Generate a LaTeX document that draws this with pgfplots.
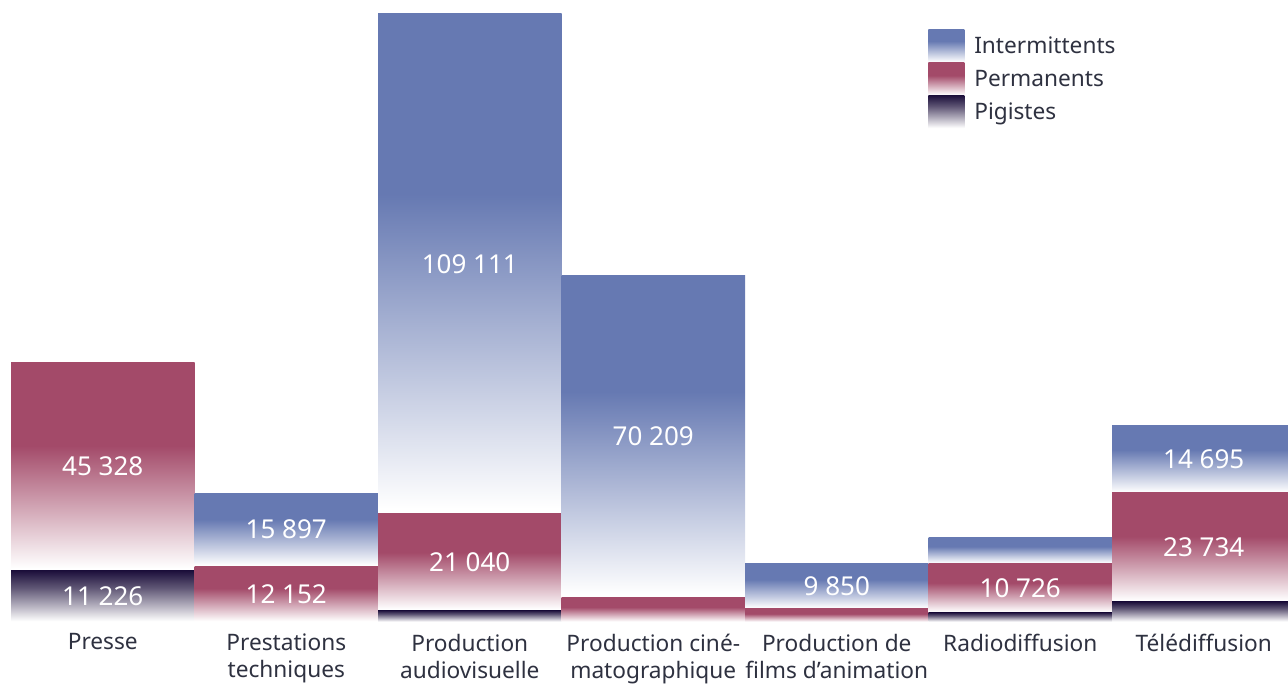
\documentclass[border=0pt]{standalone}
\usepackage{pgfplots}
\pgfplotsset{compat=1.18}
\usepackage{pgfplotstable}
\usepackage{fontspec}
\setmainfont{Noto Sans}

\definecolor{intcol}{HTML}{6679B2}
\definecolor{permcol}{HTML}{A34A69}
\definecolor{pigcol}{HTML}{1B0E3A}
\definecolor{txtcol}{HTML}{2E3140}

% solid colour at the top, fading to white at the bottom of each segment
\pgfdeclareverticalshading{intsh}{100bp}{color(0bp)=(white); color(25.5bp)=(white); color(57bp)=(intcol); color(100bp)=(intcol)}
\pgfdeclareverticalshading{permsh}{100bp}{color(0bp)=(white); color(25.5bp)=(white); color(55bp)=(permcol); color(100bp)=(permcol)}
\pgfdeclareverticalshading{pigsh}{100bp}{color(0bp)=(white); color(25.5bp)=(white); color(58bp)=(pigcol!70!white); color(75bp)=(pigcol); color(100bp)=(pigcol)}

% labels, placed at the middle of each segment
\pgfplotstableread[col sep=comma]{
x,pig,perm,int,lpig,lperm,lint
0,11226,45328,0,11 226,45 328,
1,0,12152,15897,,12 152,15 897
2,2500,21040,109111,,21 040,109 111
3,0,5300,70209,,,70 209
4,0,2900,9850,,,9 850
5,2050,10726,5700,,10 726,
6,4370,23734,14695,,23 734,14 695
}\data

\pgfplotsset{
  base/.style={
    scale only axis,
    width=966pt, height=466.3pt,
    xmin=-0.56, xmax=6.459,
    ymin=0, ymax=135700,
  },
  bars/.style={base, hide axis, ybar stacked, bar width=1},
  pig/.style={draw=none, shading=pigsh},
  perm/.style={draw=none, shading=permsh},
  int/.style={draw=none, shading=intsh},
}

\begin{document}
\begin{tikzpicture}
% category names and legend
\begin{axis}[
  base,
  axis x line*=bottom,
  axis y line=none,
  axis line style={draw=none},
  xtick={0,...,6},
  xtick style={draw=none},
  xticklabels={Presse, {Prestations\\techniques}, {Production\\audiovisuelle},
    {Production ciné-\\matographique}, {Production de\\films d’animation},
    Radiodiffusion, Télédiffusion},
  xticklabel style={align=center, text=txtcol, yshift=-5.5pt,
    font=\fontsize{17}{20.3}\selectfont},
  legend style={at={(0.7205,0.9534)}, anchor=north west, draw=none, fill=none,
    inner sep=0pt, row sep=0pt,
    nodes={inner sep=0pt, text=txtcol, font=\fontsize{17}{21}\selectfont}},
  legend cell align=left,
  legend image code/.code={\path[#1] (0pt,-11.7pt) rectangle (27pt,13.05pt);},
]
\addlegendimage{int}
\addlegendentry{\hspace{7.5pt}Intermittents}
\addlegendimage{perm}
\addlegendentry{\hspace{7.5pt}Permanents}
\addlegendimage{pig}
\addlegendentry{\hspace{7.5pt}Pigistes}
\end{axis}

% one stacked axis per category, so that every bar has its own gradient
\begin{axis}[bars]
\addplot[pig] coordinates {(0,11226)};
\addplot[perm] coordinates {(0,45328)};
\end{axis}
\begin{axis}[bars]
\addplot[perm] coordinates {(1,12152)};
\addplot[int] coordinates {(1,15897)};
\end{axis}
\begin{axis}[bars]
\addplot[pig] coordinates {(2,2500)};
\addplot[perm] coordinates {(2,21040)};
\addplot[int] coordinates {(2,109111)};
\end{axis}
\begin{axis}[bars]
\addplot[perm] coordinates {(3,5300)};
\addplot[int] coordinates {(3,70209)};
\end{axis}
\begin{axis}[bars]
\addplot[perm] coordinates {(4,2900)};
\addplot[int] coordinates {(4,9850)};
\end{axis}
\begin{axis}[bars]
\addplot[pig] coordinates {(5,2050)};
\addplot[perm] coordinates {(5,10726)};
\addplot[int] coordinates {(5,5700)};
\end{axis}
\begin{axis}[bars]
\addplot[pig] coordinates {(6,4370)};
\addplot[perm] coordinates {(6,23734)};
\addplot[int] coordinates {(6,14695)};
\end{axis}

% value labels
\begin{axis}[
  base,
  hide axis,
  nodes near coords,
  point meta=explicit symbolic,
  every node near coord/.append style={anchor=center, text=white, inner sep=0pt,
    font=\fontsize{19.5}{23}\selectfont},
]
\addplot[only marks, mark=none] table[x=x, y expr=\thisrow{pig}/2, meta=lpig] {\data};
\addplot[only marks, mark=none] table[x=x, y expr=\thisrow{pig}+\thisrow{perm}/2, meta=lperm] {\data};
\addplot[only marks, mark=none] table[x=x, y expr=\thisrow{pig}+\thisrow{perm}+\thisrow{int}/2, meta=lint] {\data};
\end{axis}
\pgfresetboundingbox
\path[use as bounding box] (0pt,-46.7pt) rectangle (966pt,466.3pt);
\end{tikzpicture}
\end{document}
